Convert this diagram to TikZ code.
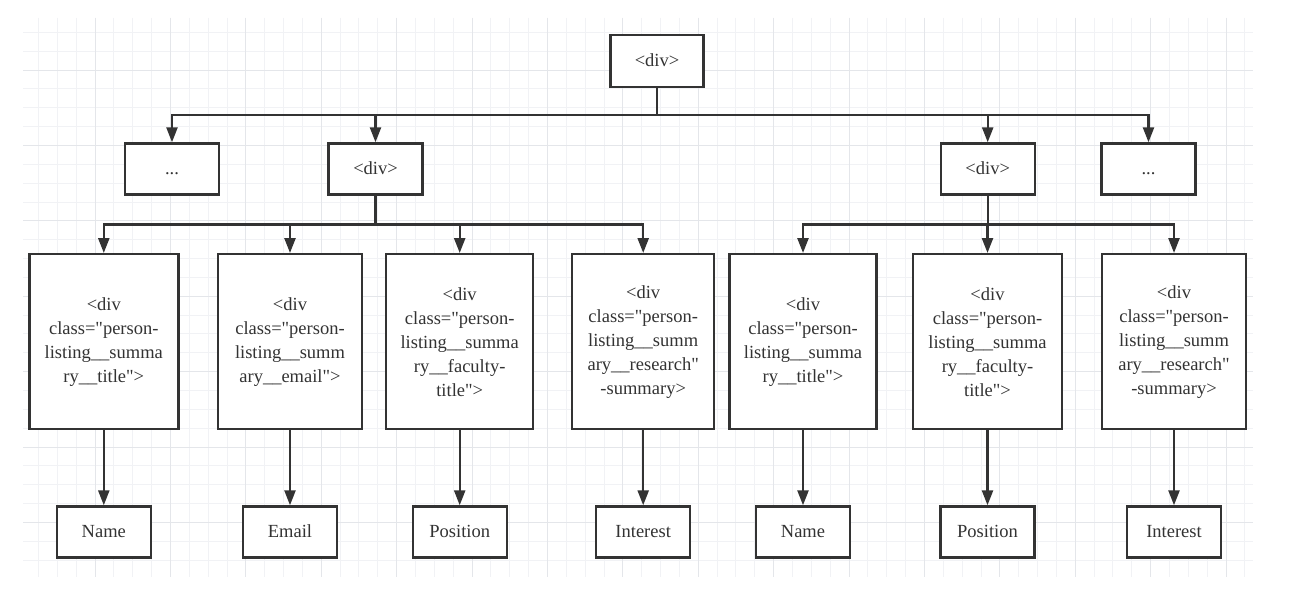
\documentclass[tikz,border=0pt]{standalone}
\usepackage{fontspec}
\setmainfont{Liberation Serif}[Ligatures=TeXOff]
\usetikzlibrary{arrows.meta}
\definecolor{ink}{HTML}{333333}
\definecolor{gridminor}{HTML}{F1F2F5}
\definecolor{gridmajor}{HTML}{E4E6EA}
\begin{document}
\begin{tikzpicture}[x=1pt,y=-1pt,
  box/.style={draw=ink, line width=2.4pt, fill=white, text=ink,
    font=\fontsize{18.5}{24}\selectfont, align=center, inner sep=0pt},
  onebox/.style={box, text height=15pt, text depth=4pt},
  topbox/.style={onebox, minimum width=93pt, minimum height=52pt},
  midbox/.style={onebox, minimum width=94pt, minimum height=51pt},
  tallbox/.style={box, minimum height=175pt},
  leafbox/.style={onebox, minimum width=94pt, minimum height=51pt},
  conn/.style={draw=ink, line width=2.4pt, -{Triangle[width=11pt,length=15pt]}}]
\useasboundingbox (0,0) rectangle (1296,594);
\fill[white] (0,0) rectangle (1296,594);
% grid
\foreach \k in {-3,...,61} \draw[gridminor, line width=0.9pt] ({95+18.85*\k},18) -- ({95+18.85*\k},577);
\foreach \k in {-2,...,26} \draw[gridminor, line width=0.9pt] (23,{70+18.85*\k}) -- (1253,{70+18.85*\k});
\foreach \m in {0,...,15} \draw[gridmajor, line width=0.9pt] ({95+75.4*\m},18) -- ({95+75.4*\m},577);
\foreach \m in {0,...,6} \draw[gridmajor, line width=0.9pt] (23,{70+75.4*\m}) -- (1253,{70+75.4*\m});
% nodes
\node[topbox] (root) at (657,61) {<div>};
\node[midbox] (e1) at (172,169) {...};
\node[midbox] (d1) at (375.5,169) {<div>};
\node[midbox] (d2) at (987.7,169) {<div>};
\node[midbox] (e2) at (1148.5,169) {...};
\node[tallbox, minimum width=149pt] (b1) at (103.8,341.7) {<div\\class="person-\\listing\_\_summa\\ry\_\_title">};
\node[tallbox, minimum width=144pt] (b2) at (290,341.7) {<div\\class="person-\\listing\_\_summ\\ary\_\_email">};
\node[tallbox, minimum width=147pt] (b3) at (459.7,341.7) {<div\\class="person-\\listing\_\_summa\\ry\_\_faculty-\\title">};
\node[tallbox, minimum width=142pt] (b4) at (643.2,341.7) {<div\\class="person-\\listing\_\_summ\\ary\_\_research"\\-summary>};
\node[tallbox, minimum width=147pt] (b5) at (803,341.7) {<div\\class="person-\\listing\_\_summa\\ry\_\_title">};
\node[tallbox, minimum width=149pt] (b6) at (987.5,341.7) {<div\\class="person-\\listing\_\_summa\\ry\_\_faculty-\\title">};
\node[tallbox, minimum width=144pt] (b7) at (1174,341.7) {<div\\class="person-\\listing\_\_summ\\ary\_\_research"\\-summary>};
\node[leafbox] (n1) at (103.8,532) {Name};
\node[leafbox] (n2) at (290,532) {Email};
\node[leafbox] (n3) at (459.7,532) {Position};
\node[leafbox] (n4) at (643.2,532) {Interest};
\node[leafbox] (n5) at (803,532) {Name};
\node[leafbox] (n6) at (987.5,532) {Position};
\node[leafbox] (n7) at (1174,532) {Interest};
% connectors
\coordinate (bus0) at (657,115);
\coordinate (busL) at (375.5,224.5);
\coordinate (busR) at (987.7,224.5);
\draw[conn] (root.south) -- (bus0) -| (e1.north);
\foreach \c in {d1,d2,e2} \draw[conn] (bus0) -| (\c.north);
\draw[conn] (d1.south) -- (busL) -| (b1.north);
\foreach \c in {b2,b3,b4} \draw[conn] (busL) -| (\c.north);
\draw[conn] (d2.south) -- (busR) -| (b5.north);
\foreach \c in {b6,b7} \draw[conn] (busR) -| (\c.north);
\foreach \i in {1,...,7} \draw[conn] (b\i.south) -- (n\i.north);
\end{tikzpicture}
\end{document}
